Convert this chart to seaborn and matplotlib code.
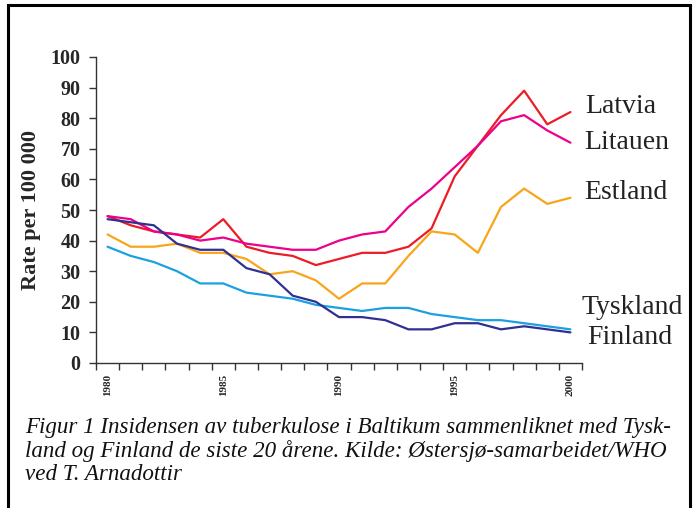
import numpy as np
import pandas as pd
import matplotlib.pyplot as plt
import matplotlib.patches as mpatches
from matplotlib.ticker import FixedLocator, NullFormatter, FixedFormatter
import seaborn as sns

# === DATA ===
YEARS = list(range(1980, 2001))
LATVIA   = [48, 45, 43, 42, 41, 47, 38, 36, 35, 32, 34, 36, 36, 38, 44, 61, 71, 81, 89, 78, 82]
LITAUEN  = [48, 47, 43, 42, 40, 41, 39, 38, 37, 37, 40, 42, 43, 51, 57, 64, 71, 79, 81, 76, 72]
ESTLAND  = [42, 38, 38, 39, 36, 36, 34, 29, 30, 27, 21, 26, 26, 35, 43, 42, 36, 51, 57, 52, 54]
TYSKLAND = [38, 35, 33, 30, 26, 26, 23, 22, 21, 19, 18, 17, 18, 18, 16, 15, 14, 14, 13, 12, 11]
FINLAND  = [47, 46, 45, 39, 37, 37, 31, 29, 22, 20, 15, 15, 14, 11, 11, 13, 13, 11, 12, 11, 10]
COUNTRIES = ["Latvia", "Litauen", "Estland", "Tyskland", "Finland"]
YTICKS = [0, 10, 20, 30, 40, 50, 60, 70, 80, 90, 100]
XLABEL_YEARS = [1980, 1985, 1990, 1995, 2000]
CAPTION = [
    "Figur 1 Insidensen av tuberkulose i Baltikum sammenliknet med Tysk-",
    "land og Finland de siste 20 årene. Kilde: Østersjø-samarbeidet/WHO",
    "ved T. Arnadottir",
]

# === STYLE ===
COLORS = {"Latvia": "#ED1C24", "Litauen": "#EC008C", "Estland": "#F9A51A",
          "Tyskland": "#1BA1E2", "Finland": "#2E3192"}
# label anchor (x in data units, y in data units) for the names at the right
LABEL_POS = {"Latvia": (2000.63, 83.7), "Litauen": (2000.58, 72.0), "Estland": (2000.58, 55.6),
             "Tyskland": (2000.5, 18.0), "Finland": (2000.72, 8.2)}

sns.set_style("white")
plt.rcParams["font.family"] = ["Liberation Serif", "DejaVu Serif"]


def main():
    series = {"Latvia": LATVIA, "Litauen": LITAUEN, "Estland": ESTLAND,
              "Tyskland": TYSKLAND, "Finland": FINLAND}
    df = pd.DataFrame([
        {"Year": y, "Rate": v, "Country": c}
        for c in COUNTRIES for y, v in zip(YEARS, series[c])
    ])

    fig = plt.figure(figsize=(6.96, 5.08), dpi=100)
    ax = fig.add_axes([96 / 696, 1 - 363 / 508, 486 / 696, 306 / 508])

    sns.lineplot(data=df, x="Year", y="Rate", hue="Country", hue_order=COUNTRIES,
                 palette=COLORS, linewidth=1.6, legend=False, ax=ax)

    ax.set_xlim(1979.5, 2000.5)
    ax.set_ylim(0, 100)

    # category-style axis: tick marks between years, labels under selected years
    ax.xaxis.set_major_locator(FixedLocator(np.arange(1979.5, 2001, 1.0)))
    ax.xaxis.set_major_formatter(NullFormatter())
    ax.xaxis.set_minor_locator(FixedLocator(XLABEL_YEARS))
    ax.xaxis.set_minor_formatter(FixedFormatter([str(y) for y in XLABEL_YEARS]))
    ax.tick_params(axis="x", which="major", direction="out", length=5, width=1, color="#333333", bottom=True)
    ax.tick_params(axis="x", which="minor", length=0, pad=8, labelsize=8, labelrotation=90, bottom=True)
    for lab in ax.get_xticklabels(minor=True):
        lab.set_fontweight("bold")

    ax.set_yticks(YTICKS)
    ax.set_yticklabels([str(v) for v in YTICKS], fontsize=14.5, fontweight="bold")
    ax.tick_params(axis="y", direction="out", length=5, width=1, color="#333333", left=True, pad=6)

    ax.spines[["top", "right"]].set_visible(False)
    for s in ["left", "bottom"]:
        ax.spines[s].set_color("#333333")
        ax.spines[s].set_linewidth(1.0)
    ax.grid(False)

    ax.set_xlabel("")
    ax.set_ylabel("Rate per 100 000", fontsize=16, fontweight="bold")
    ax.yaxis.set_label_coords(-0.113, 0.5)

    for c in COUNTRIES:
        x, y = LABEL_POS[c]
        ax.text(x, y, c, fontsize=20, color="#222222", ha="left", va="center", clip_on=False)

    for i, line in enumerate(CAPTION):
        fig.text(25 / 696, 1 - (428 + 23 * i) / 508, line, fontsize=16.6, style="italic",
                 ha="left", va="center", color="#111111")

    fig.patches.append(mpatches.Rectangle((8 / 696, -0.05), 682 / 696, 1.05 - 5 / 508,
                                          transform=fig.transFigure, fill=False,
                                          edgecolor="black", linewidth=2.2))

    fig.savefig("out.png", dpi=100)
    plt.close(fig)


if __name__ == "__main__":
    main()
